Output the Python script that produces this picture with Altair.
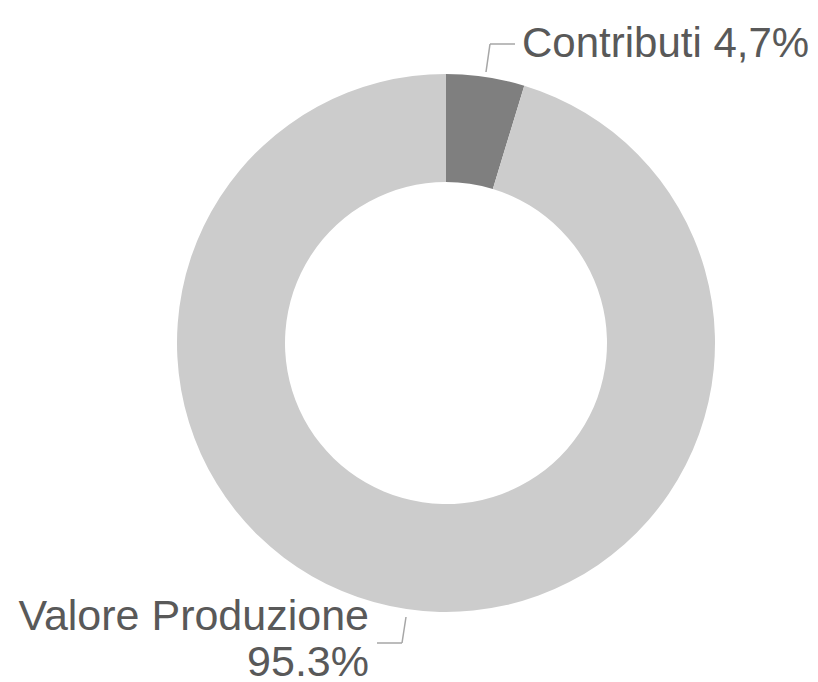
import altair as alt
import pandas as pd

categories = ["Contributi", "Valore Produzione"]
values = [4.7, 95.3]
labels = ["Contributi 4,7%", "Valore Produzione\n95.3%"]
colors = ["#7f7f7f", "#cccccc"]

CX, CY = 438, 335
R_OUT, R_IN = 269, 161
FONT = "Liberation Sans"
TEXT_COLOR = "#595959"
LEADER_COLOR = "#a6a6a6"

df = pd.DataFrame({"cat": categories, "value": values, "label": labels, "ord": list(range(len(categories)))})

base = alt.Chart(df)

donut = base.mark_arc(outerRadius=R_OUT, innerRadius=R_IN, stroke=None).encode(
    theta=alt.Theta("value:Q", stack=True),
    color=alt.Color("cat:N", scale=alt.Scale(domain=categories, range=colors), legend=None),
    order=alt.Order("ord:Q"),
    x=alt.value(CX),
    y=alt.value(CY),
)

# leader lines (annotation geometry)
segs = [
    (478, 64, 482, 36),
    (482, 36, 507, 36),
    (398, 609, 394, 635),
    (394, 635, 369, 635),
]
leaders = []
for (x1, y1, x2, y2) in segs:
    leaders.append(
        base.mark_rule(color=LEADER_COLOR, strokeWidth=1.5).encode(
            x=alt.value(x1), y=alt.value(y1), x2=alt.value(x2), y2=alt.value(y2)
        ).transform_filter(alt.datum.ord == 0)
    )

label_top = base.transform_filter(alt.datum.cat == categories[0]).mark_text(
    align="left", baseline="alphabetic", font=FONT, fontSize=42, color=TEXT_COLOR
).encode(text="label:N", x=alt.value(514), y=alt.value(49))

label_bottom = base.transform_filter(alt.datum.cat == categories[1]).mark_text(
    align="right", baseline="alphabetic", font=FONT, fontSize=43, color=TEXT_COLOR,
    lineBreak="\n", lineHeight=46
).encode(text="label:N", x=alt.value(361), y=alt.value(622))

chart = alt.layer(donut, *leaders, label_top, label_bottom).properties(
    width=802, height=674, padding=0, autosize="none"
).configure_view(stroke=None)

chart.save("out.html", embed_options={"renderer": "svg", "actions": False})
